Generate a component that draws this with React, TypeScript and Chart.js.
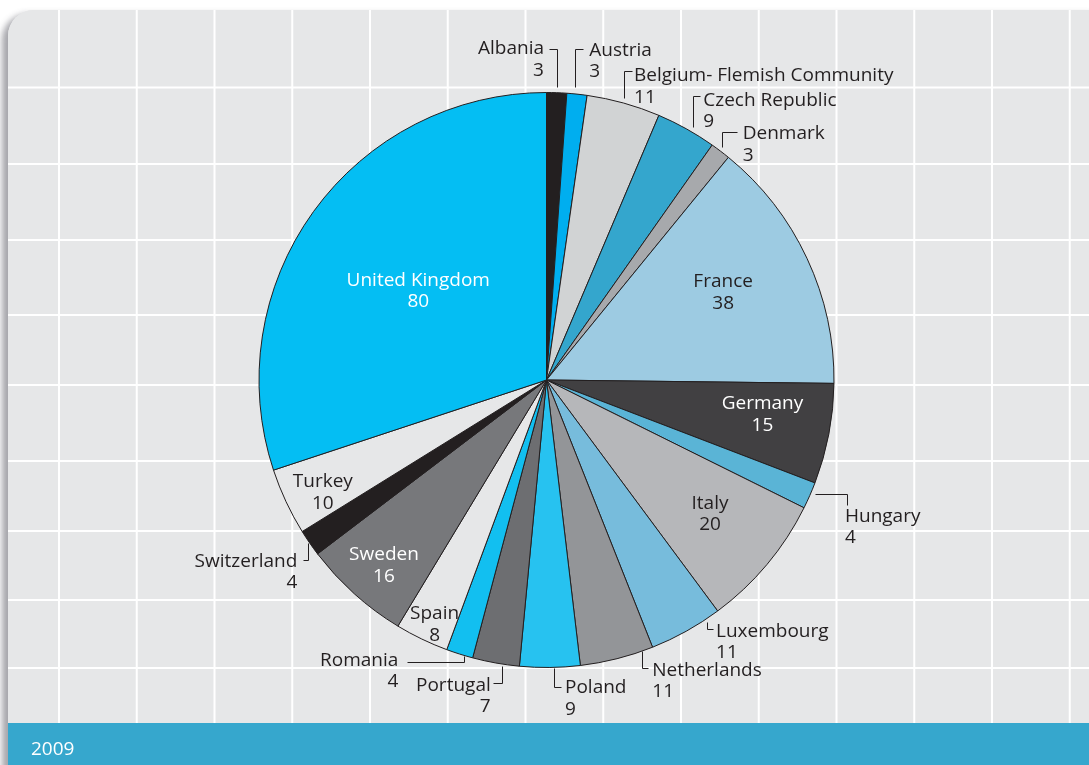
import React, { useEffect, useRef } from "react";
import { Chart, registerables } from "chart.js";

Chart.register(...registerables);

// ---- data ----
const countries = [
  "Albania",
  "Austria",
  "Belgium- Flemish Community",
  "Czech Republic",
  "Denmark",
  "France",
  "Germany",
  "Hungary",
  "Italy",
  "Luxembourg",
  "Netherlands",
  "Poland",
  "Portugal",
  "Romania",
  "Spain",
  "Sweden",
  "Switzerland",
  "Turkey",
  "United Kingdom",
];
const counts = [3, 3, 11, 9, 3, 38, 15, 4, 20, 11, 11, 9, 7, 4, 8, 16, 4, 10, 80];
const yearLabel = "2009";

// ---- styles ----
const sliceColors = [
  "#231f20",
  "#00aeef",
  "#d1d3d4",
  "#34a6cd",
  "#a7a9ac",
  "#9dcbe2",
  "#414042",
  "#5ab4d6",
  "#b6b7ba",
  "#77bcdc",
  "#939598",
  "#27c2f0",
  "#6d6e71",
  "#12bff0",
  "#e6e7e8",
  "#77787b",
  "#231f20",
  "#e6e7e8",
  "#04bef3",
];

type InLabel = { mode: "in"; f: number; da: number; light: boolean };
type OutLabel = {
  mode: "out";
  leader: [number, number][];
  tx: number;
  ty: number;
  align: "left" | "right";
};

// label placement relative to each slice (radial fraction / offsets from slice's outer mid-point)
const labelLayout: (InLabel | OutLabel)[] = [
  { mode: "out", leader: [[0.3, -5.7], [0.3, -43.7], [-7.7, -43.7]], tx: -12.7, ty: -45.2, align: "right" },
  { mode: "out", leader: [[-2, -7], [-2, -45], [6, -45]], tx: 12.3, ty: -45.3, align: "left" },
  { mode: "out", leader: [[0.4, -5.1], [0.4, -32.4], [8.1, -32.4]], tx: 10.4, ty: -28.6, align: "left" },
  { mode: "out", leader: [[7, -2.1], [7, -33.1], [13.7, -33.1]], tx: 17, ty: -29.8, align: "left" },
  { mode: "out", leader: [[1.9, -3.8], [1.9, -19.4], [16.9, -19.4]], tx: 22.3, ty: -18.6, align: "left" },
  { mode: "in", f: 0.688, da: -1.7, light: false },
  { mode: "in", f: 0.76, da: -2.06, light: true },
  { mode: "out", leader: [[5.2, -1.5], [36.9, -1.5], [36.9, 9.5]], tx: 35.2, ty: 19.5, align: "left" },
  { mode: "in", f: 0.732, da: -0.9, light: false },
  { mode: "out", leader: [[20.4, -9.5], [20.4, -1.9], [26.4, -1.9]], tx: 29.7, ty: -1.5, align: "left" },
  { mode: "out", leader: [[25.2, -7.7], [25.2, 9.6], [31.2, 9.6]], tx: 35.2, ty: 10.1, align: "left" },
  { mode: "out", leader: [[4.4, 0.5], [4.4, 19.2], [10.8, 19.2]], tx: 15.1, ty: 19.2, align: "left" },
  { mode: "out", leader: [[6.5, 3], [6.5, 20.3], [-2.8, 20.3]], tx: -5.1, ty: 20.7, align: "right" },
  { mode: "out", leader: [[4.4, 1.9], [4.4, 7.6], [-52.9, 7.6]], tx: -61.3, ty: 4.9, align: "right" },
  { mode: "in", f: 0.931, da: -1.0, light: false },
  { mode: "in", f: 0.854, da: -0.5, light: true },
  { mode: "out", leader: [[-1.3, 0.2], [-1.3, 17.2], [-6.9, 17.2]], tx: -12.3, ty: 16.9, align: "right" },
  { mode: "in", f: 0.869, da: -1.4, light: false },
  { mode: "in", f: 0.546, da: -0.65, light: true },
];

const W = 1089;
const H = 765;
const FONT = '19px "Open Sans", "Noto Sans", sans-serif';
const DARK = "#231f20";
const LINE_GAP = 21.5;
const CAP_SHIFT = 6.8;

const gridX = Array.from({ length: 14 }, (_, k) => 59 + 77.75 * k);
const gridY = [87.5, 164, 240, 315, 385, 461, 531, 600, 668];

function cardPath(ctx: CanvasRenderingContext2D) {
  const x = 8, y = 10, w = 1110, h = 785, r = 26;
  ctx.beginPath();
  ctx.moveTo(x + r, y);
  ctx.lineTo(x + w - r, y);
  ctx.arcTo(x + w, y, x + w, y + r, r);
  ctx.lineTo(x + w, y + h - r);
  ctx.arcTo(x + w, y + h, x + w - r, y + h, r);
  ctx.lineTo(x + r, y + h);
  ctx.arcTo(x, y + h, x, y + h - r, r);
  ctx.lineTo(x, y + r);
  ctx.arcTo(x, y, x + r, y, r);
  ctx.closePath();
}

const backgroundPlugin = {
  id: "cardBackground",
  beforeDraw(chart: any) {
    const ctx: CanvasRenderingContext2D = chart.ctx;
    ctx.save();
    ctx.fillStyle = "#ffffff";
    ctx.fillRect(0, 0, W, H);
    // shadow
    ctx.save();
    ctx.shadowColor = "rgba(60,60,70,0.45)";
    ctx.shadowBlur = 6;
    ctx.shadowOffsetX = -6;
    ctx.shadowOffsetY = 4;
    cardPath(ctx);
    ctx.fillStyle = "#e6e7e8";
    ctx.fill();
    ctx.restore();
    cardPath(ctx);
    ctx.fillStyle = "#e6e7e8";
    ctx.fill();
    ctx.save();
    cardPath(ctx);
    ctx.clip();
    ctx.strokeStyle = "#ffffff";
    ctx.lineWidth = 2;
    for (const gx of gridX) {
      ctx.beginPath();
      ctx.moveTo(gx, 0);
      ctx.lineTo(gx, H);
      ctx.stroke();
    }
    for (const gy of gridY) {
      ctx.beginPath();
      ctx.moveTo(0, gy);
      ctx.lineTo(W, gy);
      ctx.stroke();
    }
    ctx.fillStyle = "#36a7cd";
    ctx.fillRect(0, 723, W + 50, 100);
    ctx.restore();
    ctx.fillStyle = "#ffffff";
    ctx.font = FONT;
    ctx.textAlign = "left";
    ctx.textBaseline = "alphabetic";
    ctx.fillText(yearLabel, 31, 748 + CAP_SHIFT);
    ctx.restore();
  },
};

const labelPlugin = {
  id: "sliceLabels",
  afterDatasetsDraw(chart: any) {
    const ctx: CanvasRenderingContext2D = chart.ctx;
    const meta = chart.getDatasetMeta(0);
    const values = chart.data.datasets[0].data as number[];
    const names = chart.data.labels as string[];
    ctx.save();
    ctx.font = FONT;
    ctx.textBaseline = "alphabetic";
    meta.data.forEach((arc: any, i: number) => {
      const { x, y, startAngle, endAngle, outerRadius } = arc.getProps(
        ["x", "y", "startAngle", "endAngle", "outerRadius"],
        true
      );
      const mid = (startAngle + endAngle) / 2;
      const spec = labelLayout[i];
      const name = names[i];
      const val = String(values[i]);
      if (spec.mode === "in") {
        const a = mid + (spec.da * Math.PI) / 180;
        const px = x + spec.f * outerRadius * Math.cos(a);
        const py = y + spec.f * outerRadius * Math.sin(a);
        ctx.fillStyle = spec.light ? "#ffffff" : DARK;
        ctx.textAlign = "center";
        ctx.fillText(name, px, py - LINE_GAP / 2 + CAP_SHIFT);
        ctx.fillText(val, px, py + LINE_GAP / 2 + CAP_SHIFT);
      } else {
        const ax = x + outerRadius * Math.cos(mid);
        const ay = y + outerRadius * Math.sin(mid);
        ctx.strokeStyle = DARK;
        ctx.lineWidth = 1;
        ctx.beginPath();
        spec.leader.forEach(([dx, dy], k) => {
          const lx = Math.round(ax + dx) + 0.5;
          const ly = Math.round(ay + dy) + 0.5;
          if (k === 0) ctx.moveTo(lx, ly);
          else ctx.lineTo(lx, ly);
        });
        ctx.stroke();
        ctx.fillStyle = DARK;
        ctx.textAlign = spec.align;
        const tx = ax + spec.tx;
        const ty = ay + spec.ty;
        ctx.fillText(name, tx, ty + CAP_SHIFT);
        ctx.fillText(val, tx, ty + LINE_GAP + CAP_SHIFT);
      }
    });
    ctx.restore();
  },
};

export default function App() {
  const canvasRef = useRef<HTMLCanvasElement | null>(null);

  useEffect(() => {
    const canvas = canvasRef.current;
    if (!canvas) return;
    const chart = new Chart(canvas, {
      type: "pie",
      data: {
        labels: countries,
        datasets: [
          {
            data: counts,
            backgroundColor: sliceColors,
            borderColor: DARK,
            borderWidth: 1,
          },
        ],
      },
      options: {
        responsive: false,
        animation: false,
        radius: 287.5,
        layout: { padding: { left: 4, right: 0, top: 0, bottom: 5 } },
        plugins: {
          legend: { display: false },
          tooltip: { enabled: false },
        },
      } as any,
      plugins: [backgroundPlugin, labelPlugin],
    });
    return () => chart.destroy();
  }, []);

  return (
    <div style={{ position: "fixed", left: 0, top: 0, width: W, height: H }}>
      <canvas ref={canvasRef} width={W} height={H} style={{ width: W, height: H, display: "block" }} />
    </div>
  );
}
